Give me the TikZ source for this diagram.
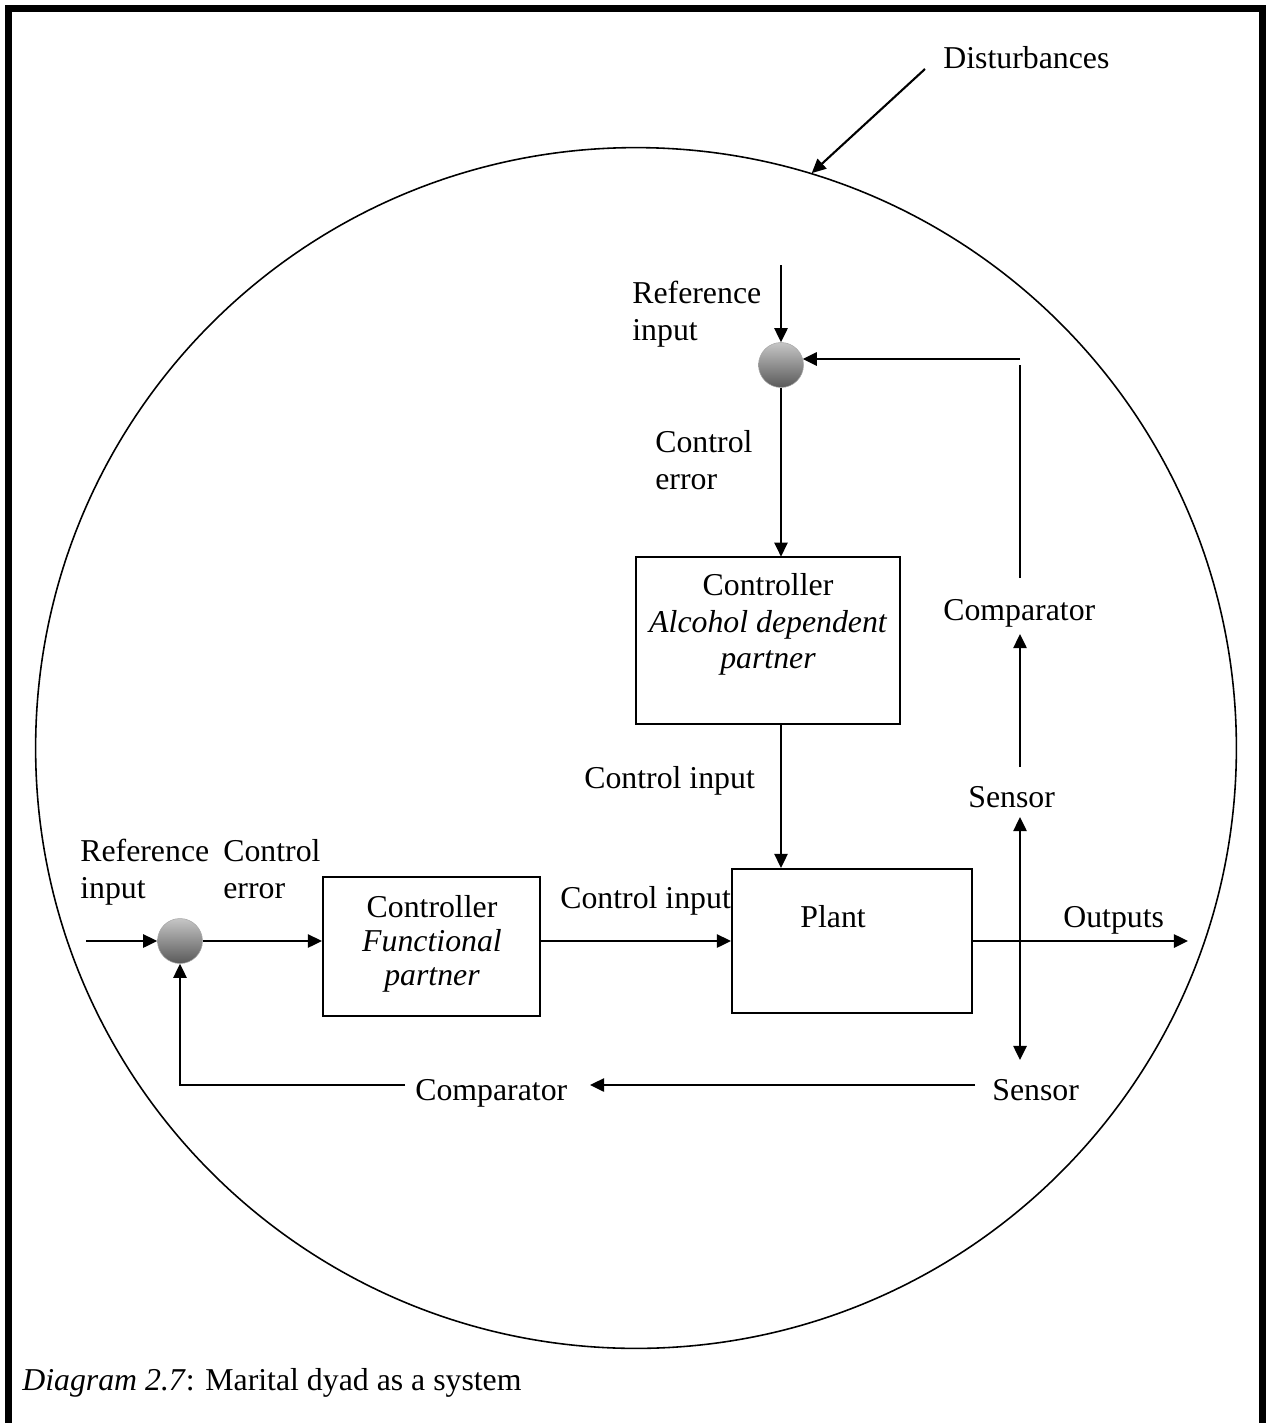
\documentclass[tikz,border=0pt]{standalone}
\usepackage{fontspec}
\setmainfont{Liberation Serif}
\usetikzlibrary{arrows.meta,calc}
\begin{document}
\begin{tikzpicture}[x=0.02cm,y=-0.02cm,
  every node/.style={font=\fontsize{18.1}{20.5}\selectfont, inner sep=0pt},
  lbl/.style={anchor=base west, align=left},
  ctr/.style={anchor=base},
  arr/.style={line width=1.2pt, -{Triangle[length=8pt,width=7.5pt]}},
  arrb/.style={line width=1.2pt, {Triangle[length=8pt,width=7.5pt]}-{Triangle[length=8pt,width=7.5pt]}},
  ln/.style={line width=1.2pt},
  blk/.style={draw, line width=1.2pt},
  junc/.style={circle, minimum size=0.9cm, draw=gray!70, line width=0.3pt, shading=axis, top color=gray!45, bottom color=black!65}
]
\useasboundingbox (0,0) rectangle (1269,1423);
% frame (open at the bottom)
\draw[line width=4pt] (8.5,1423) -- (8.5,8.5) -- (1262.5,8.5) -- (1262.5,1423);
% system boundary
\node[circle, draw, line width=0.9pt, minimum size=24.02cm] (sys) at (636,748) {};
% disturbances
\node[lbl] (dist) at (943,68) {Disturbances};
\coordinate (dstart) at (925,69);
\draw[arr] (dstart) -- (sys.73);

% ---- top loop ----
\node[junc] (j1) at (781,365) {};
\coordinate (rin1) at (781,265);
\draw[arr] (rin1) -- (j1);
\node[lbl] (ref1) at (632,340) {Reference\\input};
\node[lbl] (err1) at (655,489) {Control\\error};
\draw[blk] (636,557) rectangle (900,724);
\node[draw=none, minimum width=5.28cm, minimum height=3.34cm] (box1) at (768,640.5) {};
\node[ctr] (c1a) at (768,595) {Controller};
\node[ctr] (c1b) at (768,632) {\itshape Alcohol dependent};
\node[ctr] (c1c) at (768,668) {\itshape partner};
\draw[arr] (j1.south) -- (j1.south |- box1.north);
\node[lbl] (cin1) at (584,788) {Control input};

% plant
\node[blk, minimum width=4.8cm, minimum height=2.88cm] (plant) at (852,941) {};
\node[lbl] (plantt) at (800,927) {Plant};
\draw[arr] (box1.south -| j1) -- (plant.north -| j1);

% outputs
\coordinate (out) at (1188,941);
\draw[arr] (plant.east |- out) -- (out);
\node[lbl] (outt) at (1063,927) {Outputs};

% sensors / comparators right
\node[lbl] (sensU) at (968,807) {Sensor};
\node[lbl] (cmpU) at (943,620) {Comparator};
\coordinate (sa) at (1020,817);
\coordinate (sb) at (1020,1060);
\draw[arrb] (sa) -- (sb);
\coordinate (su) at (1020,767);
\coordinate (cu) at (1020,634);
\draw[arr] (su) -- (cu);
\coordinate (ct) at (1020,578);
\coordinate (fbv) at (1020,365);
\draw[ln] (ct) -- (fbv);
\coordinate (fbh) at (1020,359);
\draw[arr] (fbh) -- ($(j1.center)+(21.7,-6)$);

% ---- left loop ----
\node[junc] (j2) at (180,941) {};
\coordinate (rin2) at (86,941);
\draw[arr] (rin2) -- (j2);
\node[lbl] (ref2) at (80,898) {Reference\\input};
\node[lbl] (err2) at (223,898) {Control\\error};
\node[blk, minimum width=4.34cm, minimum height=2.78cm] (box2) at (431.5,946.5) {};
\node[ctr] (c2a) at (432,917) {Controller};
\node[ctr] (c2b) at (432,951) {\itshape Functional};
\node[ctr] (c2c) at (432,985) {\itshape partner};
\draw[arr] (j2) -- (box2.west |- j2);
\draw[arr] (box2.east |- j2) -- (plant.west |- j2);
\node[lbl] (cin2) at (560,908) {Control input};

% bottom feedback
\node[lbl] (sensL) at (992,1100) {Sensor};
\node[lbl] (cmpL) at (415,1100) {Comparator};
\coordinate (sl) at (975,1085);
\coordinate (cl) at (590,1085);
\draw[arr] (sl) -- (cl);
\coordinate (cll) at (405,1085);
\coordinate (corner) at (180,1085);
\draw[arr] (cll) -- (corner) -- (j2.south);

% caption
\node[lbl] (cap) at (22,1390) {\textit{Diagram 2.7}: Marital dyad as a system};
\end{tikzpicture}
\end{document}
